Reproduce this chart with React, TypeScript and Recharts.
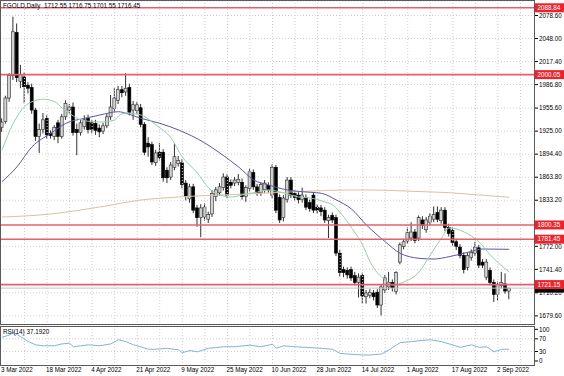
import {
  ComposedChart,
  LineChart,
  Bar,
  Line,
  XAxis,
  YAxis,
  CartesianGrid,
  ReferenceLine,
} from 'recharts';

// daily candles, bar index 0 = 3 Mar 2022
const opens = [
  1930, 1938, 1969, 1999, 2056, 1991, 1997, 1986, 1983, 1953, 1918, 1927, 1942, 1922, 1918, 1936, 1918, 1944, 1953, 1957,
  1927, 1923, 1931, 1942, 1936, 1935, 1929, 1925, 1932, 1944, 1955, 1966, 1980, 1977, 1983, 1953, 1952, 1956, 1934, 1909,
  1907, 1883, 1897, 1897, 1873, 1864, 1877, 1882, 1883, 1856, 1835, 1851, 1823, 1810, 1811, 1808, 1815, 1838, 1843, 1850,
  1864, 1857, 1856, 1857, 1857, 1838, 1849, 1870, 1851, 1843, 1847, 1853, 1840, 1877, 1837, 1810, 1834, 1860, 1842, 1840,
  1834, 1837, 1830, 1840, 1824, 1823, 1820, 1806, 1813, 1810, 1763, 1741, 1740, 1741, 1733, 1724, 1733, 1705, 1707, 1710,
  1711, 1694, 1714, 1718, 1724, 1712, 1751, 1772, 1779, 1783, 1791, 1783, 1807, 1794, 1804, 1808, 1817, 1806, 1820, 1797,
  1793, 1778, 1771, 1760, 1744, 1757, 1763, 1770, 1751, 1731, 1740, 1724, 1708, 1720, 1722, 1712.55,
];
const highs = [
  1942, 1972, 2002, 2077, 2068, 2013, 2003, 1990, 1988, 1956, 1935, 1949, 1946, 1926, 1933, 1940, 1948, 1966, 1961, 1963,
  1935, 1940, 1946, 1947, 1940, 1940, 1934, 1936, 1948, 1973, 1982, 1985, 1985, 2002, 1988, 1965, 1964, 1961, 1937, 1917,
  1911, 1900, 1909, 1901, 1877, 1884, 1909, 1892, 1888, 1860, 1855, 1855, 1827, 1828, 1829, 1818, 1847, 1851, 1856, 1869,
  1868, 1861, 1864, 1868, 1862, 1853, 1875, 1874, 1855, 1857, 1860, 1857, 1881, 1880, 1841, 1840, 1864, 1864, 1846, 1844,
  1850, 1841, 1834, 1844, 1828, 1827, 1824, 1814, 1817, 1814, 1767, 1745, 1744, 1745, 1738, 1736, 1737, 1714, 1715, 1714,
  1715, 1722, 1734, 1738, 1728, 1739, 1777, 1782, 1797, 1804, 1795, 1813, 1812, 1811, 1816, 1825, 1825, 1824, 1824, 1802,
  1797, 1782, 1775, 1764, 1764, 1768, 1778, 1774, 1755, 1755, 1744, 1728, 1725, 1738, 1736, 1716.75,
];
const lows = [
  1924, 1935, 1964, 1993, 1990, 1982, 1962, 1975, 1948, 1912, 1896, 1922, 1915, 1915, 1913, 1909, 1915, 1940, 1948, 1919,
  1893, 1919, 1927, 1922, 1922, 1920, 1917, 1921, 1929, 1940, 1950, 1961, 1970, 1972, 1946, 1940, 1948, 1930, 1893, 1891,
  1880, 1879, 1886, 1858, 1856, 1860, 1873, 1878, 1849, 1833, 1830, 1816, 1798, 1784, 1806, 1803, 1811, 1832, 1839, 1846,
  1836, 1849, 1852, 1853, 1834, 1831, 1845, 1847, 1839, 1839, 1843, 1843, 1836, 1816, 1803, 1805, 1830, 1836, 1833, 1829,
  1830, 1820, 1818, 1816, 1815, 1812, 1803, 1783, 1803, 1759, 1732, 1731, 1729, 1726, 1720, 1704, 1696, 1696, 1703, 1700,
  1690, 1680, 1710, 1714, 1712, 1708, 1748, 1768, 1775, 1779, 1776, 1779, 1795, 1790, 1800, 1804, 1804, 1802, 1792, 1785,
  1773, 1767, 1756, 1736, 1740, 1753, 1759, 1743, 1743, 1727, 1720, 1698, 1700, 1716, 1709, 1701.55,
];
const closes = [
  1937, 1969, 1999, 2057, 1996, 2000, 1984, 1982, 1953, 1918, 1927, 1940, 1920, 1919, 1930, 1918, 1944, 1962, 1957, 1923,
  1923, 1936, 1940, 1927, 1927, 1926, 1924, 1932, 1944, 1957, 1969, 1980, 1976, 1982, 1950, 1960, 1960, 1934, 1897, 1904,
  1884, 1896, 1890, 1863, 1863, 1880, 1891, 1886, 1854, 1838, 1851, 1820, 1810, 1823, 1824, 1814, 1842, 1847, 1851, 1864,
  1840, 1853, 1860, 1861, 1838, 1850, 1871, 1851, 1843, 1854, 1856, 1847, 1877, 1820, 1807, 1836, 1860, 1840, 1837, 1834,
  1840, 1824, 1822, 1820, 1820, 1818, 1807, 1810, 1807, 1763, 1737, 1737, 1734, 1730, 1724, 1731, 1706, 1710, 1711, 1705,
  1694, 1718, 1730, 1724, 1717, 1737, 1774, 1778, 1790, 1791, 1780, 1810, 1800, 1807, 1812, 1814, 1808, 1820, 1797, 1789,
  1777, 1772, 1760, 1741, 1760, 1764, 1771, 1747, 1747, 1751, 1724, 1708, 1721, 1724, 1712.55, 1716.45,
];

// moving averages (bar index -> price)
const maFastIdx = [0, 3, 6, 8, 11, 14, 16, 19, 21, 26, 30, 31, 33, 37, 41, 45, 48, 52, 55, 58, 61, 64, 68, 71, 75, 79, 82, 86, 88, 91, 94, 96, 98, 102, 104, 107, 111, 114, 117, 119, 123, 127, 130, 135];
const maFastVal = [1899.9, 1935.4, 1957.4, 1964.1, 1967.3, 1964.1, 1955.7, 1945.1, 1939.8, 1937.1, 1939.8, 1945.1, 1949.1, 1946.4, 1933.1, 1915.9, 1890.6, 1869.4, 1849.5, 1840.2, 1837.5, 1840.2, 1844.1, 1846.8, 1842.8, 1837.5, 1836.2, 1830.9, 1826.9, 1810.9, 1789.7, 1773.7, 1751.1, 1727.2, 1720.6, 1724.6, 1737.9, 1760.4, 1783.0, 1796.3, 1791.0, 1777.7, 1760.4, 1737.9];
const maMidIdx = [0, 4, 8, 13, 17, 22, 26, 31, 33, 37, 42, 47, 54, 58, 63, 67, 71, 76, 80, 85, 89, 93, 97, 102, 106, 111, 115, 119, 124, 128, 135];
const maMidVal = [1857.8, 1877.7, 1904.3, 1922.1, 1935.4, 1942.0, 1946.4, 1950.8, 1948.7, 1942.0, 1935.4, 1926.5, 1909.2, 1895.9, 1877.3, 1860.1, 1853.4, 1846.8, 1844.5, 1842.4, 1833.5, 1821.6, 1800.3, 1778.1, 1762.7, 1756.1, 1755.1, 1758.2, 1764.0, 1768.4, 1768.0];
const maSlowIdx = [0, 13, 26, 37, 47, 65, 83, 92, 98, 109, 119, 127, 135];
const maSlowVal = [1810.9, 1814.9, 1824.2, 1833.5, 1837.5, 1841.5, 1845.5, 1846.8, 1846.8, 1845.1, 1843.2, 1840.2, 1837.1];

// RSI(14)
const rsiIdx = [0, 2, 3, 5, 7, 9, 11, 14, 16, 18, 19, 23, 26, 29, 31, 33, 35, 36, 39, 41, 44, 47, 48, 50, 52, 53, 55, 59, 62, 66, 69, 72, 73, 75, 78, 81, 85, 88, 90, 92, 96, 98, 101, 103, 106, 109, 111, 114, 117, 119, 122, 125, 127, 129, 131, 133, 135];
const rsiVal = [75, 82, 90, 77, 61, 51, 48, 48, 54, 56, 45, 51, 48, 54, 67, 61, 51, 48, 37, 37, 40, 35, 26, 33, 29, 33, 40, 45, 45, 50, 45, 53, 40, 48, 45, 43, 40, 37, 24, 22, 19, 19, 22, 35, 58, 61, 64, 67, 61, 54, 43, 51, 43, 45, 29, 37, 37.19];

const priceTicks = [2078.6, 2048.0, 2017.4, 1986.8, 1955.6, 1925.0, 1894.4, 1863.8, 1833.2, 1772.0, 1741.4, 1710.2, 1679.6];
const rsiTicks = [0, 30, 70, 100];
const dateLabels = ['3 Mar 2022', '18 Mar 2022', '4 Apr 2022', '21 Apr 2022', '9 May 2022', '25 May 2022', '10 Jun 2022', '28 Jun 2022', '14 Jul 2022', '1 Aug 2022', '17 Aug 2022', '2 Sep 2022'];
const dateIdx = [0, 12, 24, 36, 48, 60, 72, 84, 96, 108, 120, 132];
const gridIdx = [6, 12, 18, 24, 30, 36, 42, 48, 54, 60, 66, 72, 78, 84, 90, 96, 102, 108, 114, 120, 126, 132, 138];
const levels = [2088.84, 2000.05, 1800.35, 1781.45, 1721.15];
const bid = 1716.45;

const fastAt = new Map(maFastIdx.map((k, j) => [k, maFastVal[j]]));
const midAt = new Map(maMidIdx.map((k, j) => [k, maMidVal[j]]));
const slowAt = new Map(maSlowIdx.map((k, j) => [k, maSlowVal[j]]));
const rsiAt = new Map(rsiIdx.map((k, j) => [k, rsiVal[j]]));

const data = opens.map((o, i) => ({
  i,
  o,
  h: highs[i],
  l: lows[i],
  c: closes[i],
  range: [lows[i], highs[i]],
  maFast: fastAt.get(i) ?? null,
  maMid: midAt.get(i) ?? null,
  maSlow: slowAt.get(i) ?? null,
  rsi: rsiAt.get(i) ?? null,
}));

const FONT = '"Liberation Sans", Arial, sans-serif';
const FS = 6.3;
const X_DOMAIN = [-0.533, 141.87];
const GRID = '#cfcfcf';

const Candle = (props: any) => {
  const { x, y, width, height, payload } = props;
  const top = Math.min(y, y + height);
  const hh = Math.abs(height);
  const { o, c, h, l } = payload;
  const span = h - l || 1;
  const py = (v: number) => top + ((h - v) / span) * hh;
  const cx = x + width / 2;
  const bTop = py(Math.max(o, c));
  const bBot = py(Math.min(o, c));
  const bull = c >= o;
  return (
    <g>
      <line x1={cx} x2={cx} y1={top} y2={top + hh} stroke="#1a1a1a" strokeWidth={0.9} />
      <rect
        x={x}
        y={bTop}
        width={width}
        height={Math.max(0.8, bBot - bTop)}
        fill={bull ? '#d2d2d2' : '#000'}
        stroke={bull ? '#2a2a2a' : '#000'}
        strokeWidth={0.6}
      />
    </g>
  );
};

const tag = (vb: any, text: string, bg: string) => {
  if (!vb) return null;
  const x0 = vb.x + vb.width;
  return (
    <g>
      <rect x={x0} y={vb.y - 4.5} width={29} height={9} fill={bg} />
      {text ? (
        <text x={x0 + 2.5} y={vb.y + 2.3} fontSize={FS} fontFamily={FONT} fill="#fff">
          {text}
        </text>
      ) : null}
    </g>
  );
};

const DateTick = (props: any) => {
  const { x, y, payload } = props;
  const k = dateIdx.indexOf(payload.value);
  return (
    <text x={x - 1} y={y + 6} fontSize={FS} fontFamily={FONT} fill="#000" textAnchor="start">
      {k >= 0 ? dateLabels[k] : ''}
    </text>
  );
};

export default function App() {
  return (
    <div style={{ position: 'absolute', left: 0, top: 0, width: 564, height: 376, background: '#fff', fontFamily: FONT }}>
      <div style={{ position: 'absolute', left: 0, top: 0 }}>
        <ComposedChart width={564} height={326} data={data} margin={{ top: 1, right: 0, bottom: 1, left: 0 }}>
          <CartesianGrid vertical={false} stroke={GRID} strokeDasharray="1 2" />
          <XAxis type="number" dataKey="i" domain={X_DOMAIN} hide allowDataOverflow />
          <YAxis
            orientation="right"
            width={29}
            domain={[1667.46, 2097.86]}
            ticks={priceTicks}
            interval={0}
            allowDataOverflow
            axisLine={false}
            tickSize={3}
            tickMargin={1}
            tickLine={{ stroke: '#000' }}
            tick={{ fontSize: FS, fill: '#000', fontFamily: FONT, textAnchor: 'start' }}
            tickFormatter={(v: number) => v.toFixed(2)}
          />
          {gridIdx.map((k) => (
            <ReferenceLine key={'g' + k} x={k} stroke={GRID} strokeDasharray="1 2" />
          ))}
          <Line dataKey="maSlow" type="monotone" stroke="#d8c2a2" strokeWidth={1} dot={false} connectNulls isAnimationActive={false} />
          <Line dataKey="maMid" type="monotone" stroke="#5858a8" strokeWidth={1} dot={false} connectNulls isAnimationActive={false} />
          <Line dataKey="maFast" type="monotone" stroke="#98ccaa" strokeWidth={1} dot={false} connectNulls isAnimationActive={false} />
          <Bar dataKey="range" barSize={3} shape={Candle} isAnimationActive={false} />
          {/* bid line, its tag sits mostly under the 1721.15 tag */}
          <ReferenceLine y={bid} stroke="#c4c4c4" strokeWidth={1} label={(p: any) => tag(p.viewBox, '', '#000')} />
          {levels.map((v) => (
            <ReferenceLine
              key={'l' + v}
              y={v}
              stroke="#e4606c"
              strokeWidth={1.6}
              label={(p: any) => tag(p.viewBox, v.toFixed(2), '#e8252f')}
            />
          ))}
        </ComposedChart>
      </div>
      <div style={{ position: 'absolute', left: 0, top: 325 }}>
        <LineChart width={564} height={51} data={data} margin={{ top: 2, right: 0, bottom: 0, left: 0 }}>
          <XAxis
            type="number"
            dataKey="i"
            domain={X_DOMAIN}
            allowDataOverflow
            ticks={dateIdx}
            interval={0}
            height={10}
            axisLine={false}
            tickLine={false}
            tickSize={0}
            tickMargin={0}
            tick={<DateTick />}
          />
          <YAxis
            orientation="right"
            width={29}
            domain={[-15.8, 107.3]}
            ticks={rsiTicks}
            interval={0}
            allowDataOverflow
            axisLine={false}
            tickSize={3}
            tickMargin={1}
            tickLine={{ stroke: '#000' }}
            tick={{ fontSize: FS, fill: '#000', fontFamily: FONT, textAnchor: 'start' }}
          />
          {gridIdx.map((k) => (
            <ReferenceLine key={'rg' + k} x={k} stroke={GRID} strokeDasharray="1 2" />
          ))}
          <ReferenceLine y={70} stroke={GRID} strokeDasharray="1 2" />
          <ReferenceLine y={30} stroke={GRID} strokeDasharray="1 2" />
          <Line dataKey="rsi" type="linear" stroke="#7fb4dc" strokeWidth={1} dot={false} connectNulls isAnimationActive={false} />
        </LineChart>
      </div>
      <div style={{ position: 'absolute', left: 0, top: 0, width: 535, height: 325, border: '1px solid #5a5a5a', boxSizing: 'border-box', pointerEvents: 'none' }} />
      <div style={{ position: 'absolute', left: 0, top: 326, width: 535, height: 40, border: '1px solid #5a5a5a', boxSizing: 'border-box', pointerEvents: 'none' }} />
      <div style={{ position: 'absolute', left: 3, top: 2, fontSize: FS, lineHeight: '8px', color: '#000', whiteSpace: 'pre' }}>
        {'FGOLD,Daily  1712.55 1716.75 1701.55 1716.45'}
      </div>
      <div style={{ position: 'absolute', left: 3, top: 328, fontSize: FS, lineHeight: '8px', color: '#000', whiteSpace: 'pre' }}>
        {'RSI(14) 37.1920'}
      </div>
    </div>
  );
}
